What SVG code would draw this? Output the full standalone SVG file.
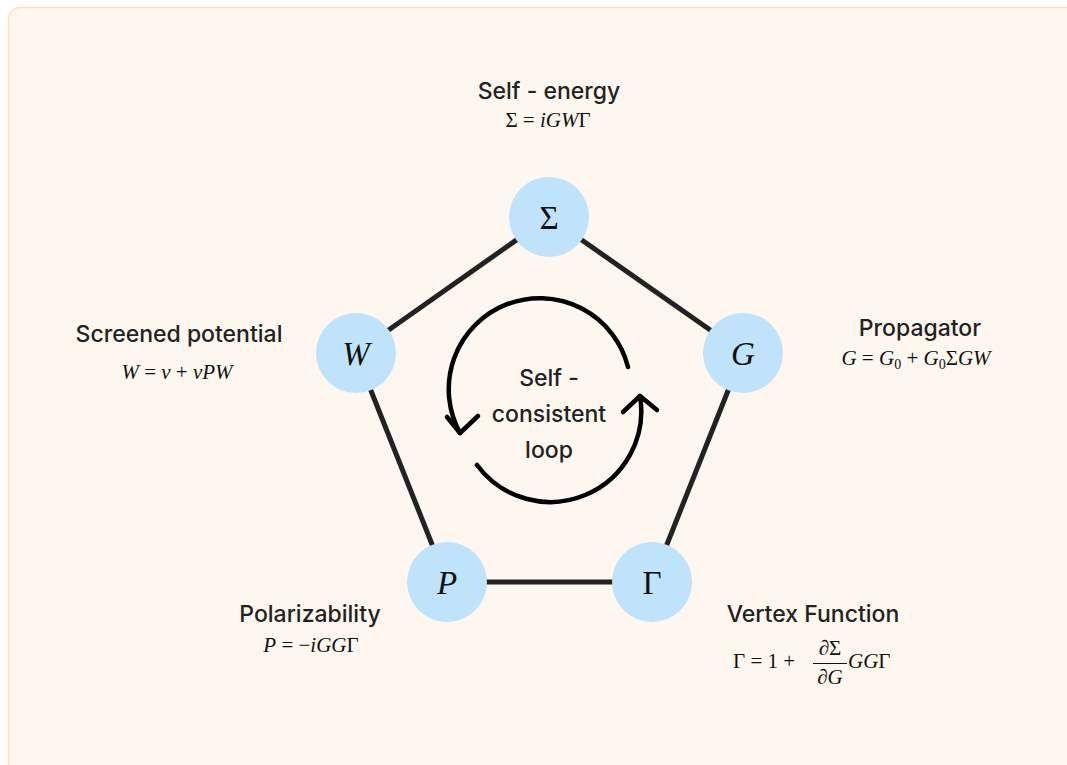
<svg xmlns="http://www.w3.org/2000/svg" width="1067" height="765" viewBox="0 0 1067 765">
<style>
.lbl{font-family:Inter,"Noto Sans","Liberation Sans",sans-serif;font-size:23px;font-weight:500;fill:#222;text-anchor:middle}
.math{font-family:"Liberation Serif","DejaVu Serif",serif;font-size:21px;fill:#111}
.mi{font-style:italic}
.node circle{fill:#bee3fa}
.nl{font-family:"Liberation Serif","DejaVu Serif",serif;font-size:33px;fill:#111;text-anchor:middle}
.edge{stroke:#222;stroke-width:5;fill:none;stroke-linecap:butt}
.loop{stroke:#000;stroke-width:4.5;fill:none;stroke-linecap:round;stroke-linejoin:round}
</style>
<rect x="0" y="0" width="1067" height="765" fill="#ffffff"/>
<rect x="8.5" y="7.5" width="1100" height="800" rx="12" fill="#fef7f0" stroke="#fde2bd" stroke-width="1.5"/>
<g id="connectors">
<line class="edge" x1="549" y1="217" x2="743" y2="353"/>
<line class="edge" x1="743" y1="353" x2="652" y2="582"/>
<line class="edge" x1="652" y1="582" x2="447" y2="582"/>
<line class="edge" x1="447" y1="582" x2="356" y2="353"/>
<line class="edge" x1="356" y1="353" x2="549" y2="217"/>
</g>
<g id="node-sigma" class="node">
<circle cx="549" cy="217" r="40"/>
<text class="nl" x="549" y="229">Σ</text>
<text class="lbl" x="549" y="99">Self - energy</text>
<text class="math" x="548" y="127" text-anchor="middle">Σ = <tspan class="mi">iGW</tspan>Γ</text>
</g>
<g id="node-G" class="node">
<circle cx="743" cy="353" r="40"/>
<text class="nl mi" x="743" y="365">G</text>
<text class="lbl" x="920" y="336">Propagator</text>
<text class="math" x="916" y="365" text-anchor="middle"><tspan class="mi">G</tspan> = <tspan class="mi">G</tspan><tspan font-size="14" dy="4">0</tspan><tspan dy="-4"> + </tspan><tspan class="mi">G</tspan><tspan font-size="14" dy="4">0</tspan><tspan dy="-4">Σ</tspan><tspan class="mi">GW</tspan></text>
</g>
<g id="node-Gamma" class="node">
<circle cx="652" cy="582" r="40"/>
<text class="nl" x="652" y="594">Γ</text>
<text class="lbl" x="813" y="622">Vertex Function</text>
<text class="math" x="733" y="668">Γ = 1 +</text>
<text class="math" x="830" y="655" text-anchor="middle">∂Σ</text>
<line x1="813" y1="663.5" x2="847" y2="663.5" stroke="#111" stroke-width="1"/>
<text class="math mi" x="830" y="684" text-anchor="middle">∂G</text>
<text class="math" x="848" y="668"><tspan class="mi">GG</tspan>Γ</text>
</g>
<g id="node-P" class="node">
<circle cx="447" cy="582" r="40"/>
<text class="nl mi" x="447" y="594">P</text>
<text class="lbl" x="310" y="622">Polarizability</text>
<text class="math" x="311" y="652" text-anchor="middle"><tspan class="mi">P</tspan> = −<tspan class="mi">iGG</tspan>Γ</text>
</g>
<g id="node-W" class="node">
<circle cx="356" cy="353" r="40"/>
<text class="nl mi" x="356" y="365">W</text>
<text class="lbl" x="179" y="342">Screened potential</text>
<text class="math" x="177" y="379" text-anchor="middle"><tspan class="mi">W</tspan> = <tspan class="mi">v</tspan> + <tspan class="mi">vPW</tspan></text>
</g>
<g id="loop">
<path class="loop" d="M628 367 A91 91 0 1 0 460 433"/>
<path class="loop" d="M447 417 L460 433 L478 416"/>
<path class="loop" d="M477 465 A91 91 0 0 0 640 396"/>
<path class="loop" d="M623 412 L640 396 L657 410"/>
<text class="lbl" x="549" y="386">Self -</text>
<text class="lbl" x="549" y="422">consistent</text>
<text class="lbl" x="549" y="458">loop</text>
</g>
</svg>
